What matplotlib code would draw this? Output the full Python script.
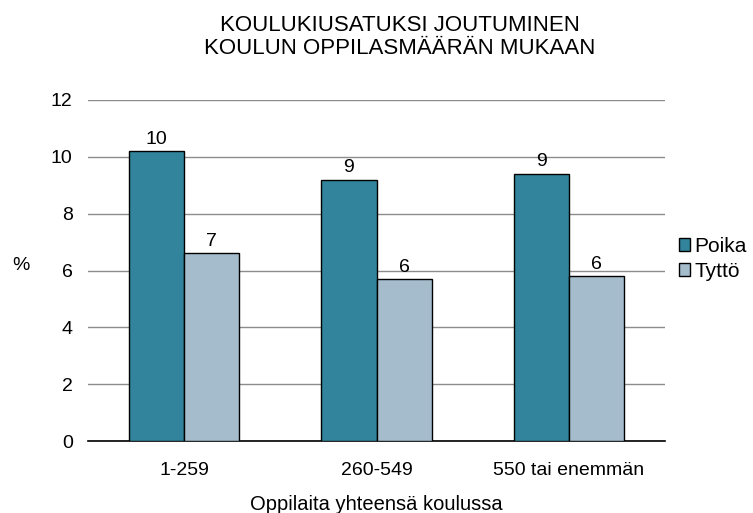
import numpy as np
import matplotlib.pyplot as plt

plt.rcParams['font.family'] = ['Liberation Sans', 'DejaVu Sans']

categories = ['1-259', '260-549', '550 tai enemmän']
poika = [10.2, 9.2, 9.4]
tytto = [6.6, 5.7, 5.8]
series_names = ['Poika', 'Tyttö']

fig = plt.figure(figsize=(7.53, 5.13), dpi=100)
ax = fig.add_axes([88 / 753, 1 - 441 / 513, 577 / 753, 341 / 513])

x = np.arange(len(categories))
w = 0.286
b1 = ax.bar(x - w / 2, poika, w, color='#31849B', edgecolor='black', linewidth=1, label=series_names[0], zorder=3)
b2 = ax.bar(x + w / 2, tytto, w, color='#A5BCCD', edgecolor='black', linewidth=1, label=series_names[1], zorder=3)

for bars in (b1, b2):
    for r in bars:
        ax.text(r.get_x() + r.get_width() / 2, r.get_height() + 0.12, f'{r.get_height():.0f}',
                ha='center', va='bottom', fontsize=14)

ax.set_xlim(-0.5, 2.5)
ax.set_ylim(0, 12)
ax.set_yticks(range(0, 13, 2))
ax.yaxis.grid(True, color='#8c8c8c', linewidth=1, zorder=0)
ax.set_axisbelow(True)
for s in ['top', 'right', 'left']:
    ax.spines[s].set_visible(False)
ax.spines['bottom'].set_linewidth(1.2)
ax.tick_params(axis='both', length=0, labelsize=14)
ax.tick_params(axis='y', pad=11)
ax.tick_params(axis='x', pad=15)
ax.set_xticks(x)
ax.set_xticklabels(categories)
ax.set_xlabel('Oppilaita yhteensä koulussa', fontsize=14.5, labelpad=12)

fig.text(12 / 753, 1 - 265 / 513, '%', fontsize=14, ha='left', va='center')
fig.text(400 / 753, 1 - 15 / 513, 'KOULUKIUSATUKSI JOUTUMINEN\nKOULUN OPPILASMÄÄRÄN MUKAAN',
         ha='center', va='top', fontsize=16, linespacing=1.12)

ax.legend(loc='center left', bbox_to_anchor=(679 / 753, 1 - 259 / 513), bbox_transform=fig.transFigure,
          frameon=False, fontsize=15, handlelength=0.55, handleheight=0.55, handletextpad=0.2,
          labelspacing=0.3, borderaxespad=0, borderpad=0)

fig.savefig('out.png', dpi=100)
